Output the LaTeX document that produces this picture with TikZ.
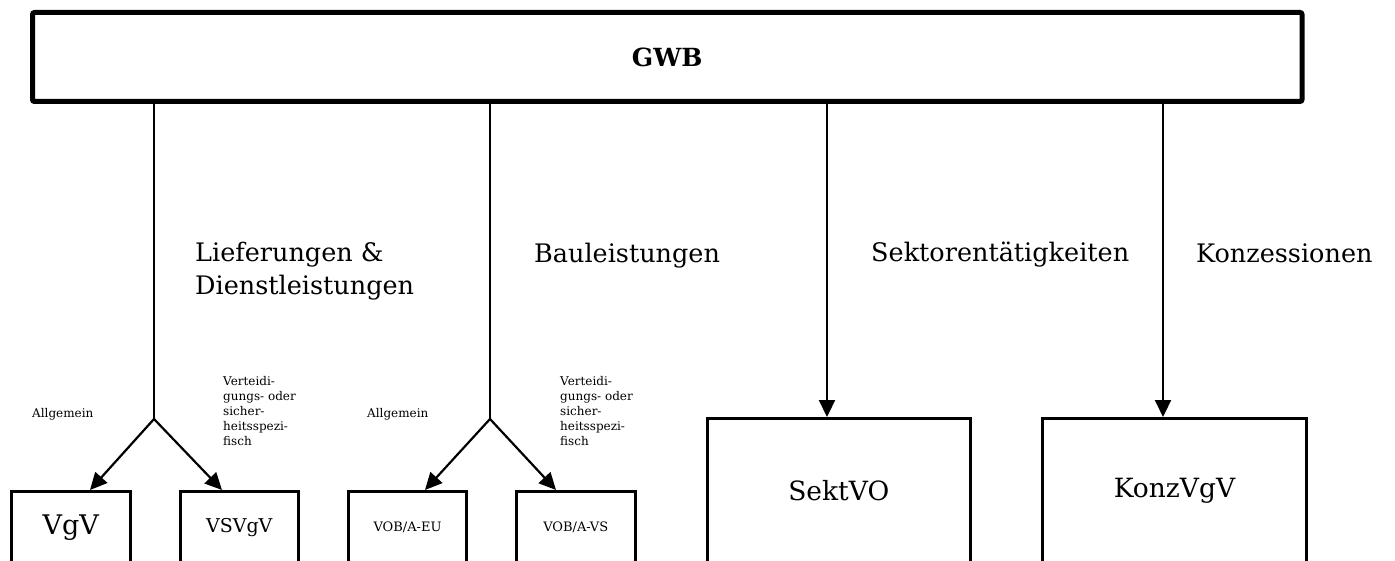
\documentclass[tikz,border=0pt]{standalone}
\usepackage{fontspec}
\setmainfont{DejaVu Serif}
\usetikzlibrary{arrows.meta}
\begin{document}
\begin{tikzpicture}[x=1pt,y=-1pt,
  box/.style={draw, line width=3pt, inner sep=0pt, outer sep=0pt, rectangle},
  smallbox/.style={box, minimum width=118.5pt, minimum height=71.5pt},
  bigbox/.style={box, minimum height=144.5pt, font=\fontsize{26.5}{30}\selectfont},
  conn/.style={line width=2.2pt},
  arr/.style={conn, -{Triangle[length=17pt,width=16pt]}},
  lbl/.style={font=\fontsize{25.5}{33}\selectfont, align=left, inner sep=0pt, anchor=base west},
  sml/.style={font=\fontsize{12}{15}\selectfont, align=left, inner sep=0pt, anchor=base west}]
\clip (0,0) rectangle (1395,561);
% top box
\node[draw, line width=5pt, rounded corners=2pt, inner sep=0pt, outer sep=0pt,
      minimum width=1269.5pt, minimum height=89pt,
      font=\fontsize{25}{30}\selectfont\bfseries] (gwb) at (667.25,57) {GWB};
% lower boxes
\node[smallbox, font=\fontsize{27}{30}\selectfont] (vgv) at (70.75,527.25) {VgV};
\node[smallbox, font=\fontsize{19}{22}\selectfont] (vsvgv) at (239.25,527.25) {VSVgV};
\node[smallbox, minimum width=118pt, font=\fontsize{13}{15}\selectfont] (vobeu) at (407.5,527.25) {VOB/A-EU};
\node[smallbox, font=\fontsize{13}{15}\selectfont] (vobvs) at (575.75,527.25) {VOB/A-VS};
\node[bigbox, minimum width=262.5pt] (sekt) at (838.75,490.75) {SektVO};
\node[bigbox, minimum width=264pt] (konz) at (1174.5,490.75) {KonzVgV};
% junctions and arrow ends
\coordinate (j1) at (154,419);
\coordinate (j2) at (490,419);
\coordinate (t1) at (90,490);
\coordinate (t2) at (222,490);
\coordinate (t3) at (425,490);
\coordinate (t4) at (556,490);
\coordinate (t5) at (827,417);
\coordinate (t6) at (1163,417);
% connectors
\draw[conn] (gwb.south -| j1) -- (j1);
\draw[conn] (gwb.south -| j2) -- (j2);
\draw[arr] (j1) -- (t1);
\draw[arr] (j1) -- (t2);
\draw[arr] (j2) -- (t3);
\draw[arr] (j2) -- (t4);
\draw[arr] (gwb.south -| t5) -- (t5);
\draw[arr] (gwb.south -| t6) -- (t6);
% labels (base anchor of a multi-line node is its last line)
\node[lbl] (lief) at (195,295) {Lieferungen \&\\Dienstleistungen};
\node[lbl] (bau) at (534,263) {Bauleistungen};
\node[lbl] (sektl) at (871,262) {Sektorentätigkeiten};
\node[lbl] (konzl) at (1196,263) {Konzessionen};
\node[sml] (allg1) at (32,417) {Allgemein};
\node[sml] (vert1) at (223,445) {Verteidi-\\gungs- oder\\sicher-\\heitsspezi-\\fisch};
\node[sml] (allg2) at (367,417) {Allgemein};
\node[sml] (vert2) at (560,445) {Verteidi-\\gungs- oder\\sicher-\\heitsspezi-\\fisch};
\end{tikzpicture}
\end{document}
